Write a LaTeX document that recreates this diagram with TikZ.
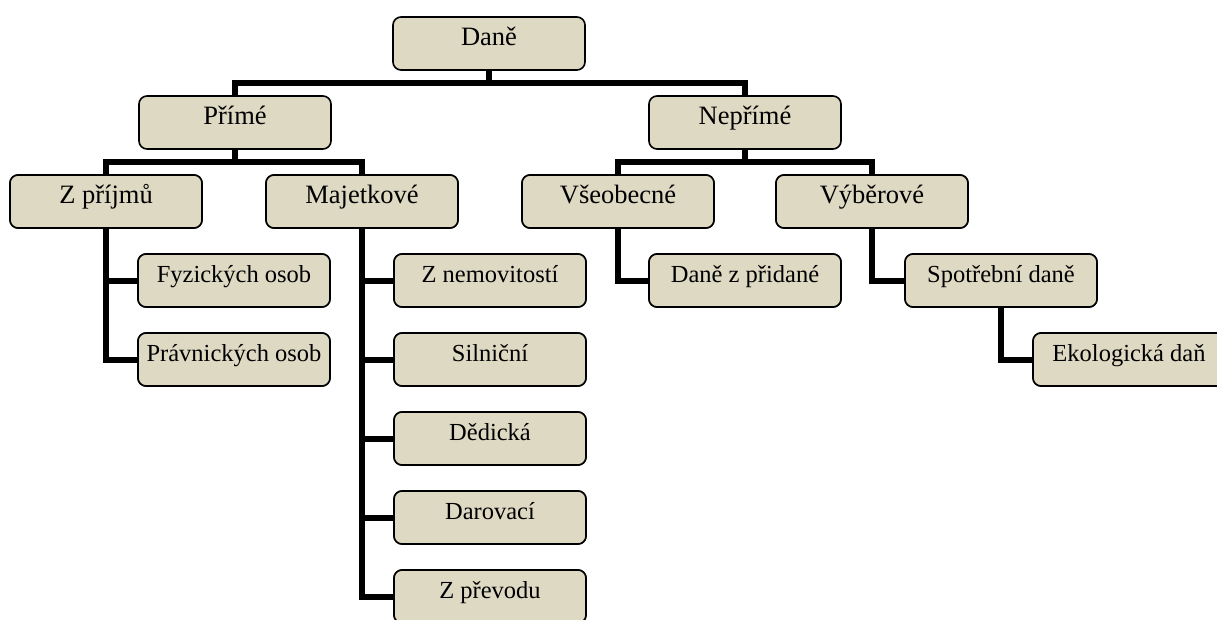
\documentclass[tikz,border=0pt]{standalone}
\usepackage{fontspec}
\setmainfont{Liberation Serif}
\usetikzlibrary{positioning}
\definecolor{boxtan}{HTML}{DDD9C3}
\tikzset{
  box/.style={draw,line width=1.6pt,rounded corners=8pt,fill=boxtan,
    minimum width=192pt,minimum height=53pt,inner sep=0pt,
    text height=11.5pt,text depth=8.5pt},
  big/.style={box,font=\fontsize{26.5}{30}\selectfont},
  small/.style={box,font=\fontsize{24.5}{28}\selectfont},
  link/.style={line width=6pt}
}
\begin{document}
\begin{tikzpicture}[x=1pt,y=-1pt]
  \useasboundingbox (0,0) rectangle (1217,619);
  \clip (0,0) rectangle (1217,619);

  % connectors first, boxes on top
  \coordinate (dane-s) at (489,70);
  \coordinate (prime-s) at (235,149);
  \coordinate (neprime-s) at (745,149);
  \draw[link] (dane-s) -- (489,83) coordinate (bar1);
  \draw[link] (235,96) |- (bar1) -| (745,96);
  \draw[link] (prime-s) -- (235,162) coordinate (bar2);
  \draw[link] (106,175) |- (bar2) -| (362,175);
  \draw[link] (neprime-s) -- (745,162) coordinate (bar3);
  \draw[link] (618,175) |- (bar3) -| (872,175);

  \node[big] (dane) at (489,43.5) {Daně};
  \node[big] (prime) at (235,122.5) {Přímé};
  \node[big] (neprime) at (745,122.5) {Nepřímé};
  \node[big] (zprijmu) at (106,201.5) {Z příjmů};
  \node[big] (majetkove) at (362,201.5) {Majetkové};
  \node[big] (vseobecne) at (618,201.5) {Všeobecné};
  \node[big] (vyberove) at (872,201.5) {Výběrové};

  \node[small] (fyzicke) at (234,280.5) {Fyzických osob};
  \node[small] (pravnicke) at (234,359.5) {Právnických osob};
  \draw[link] (zprijmu.south) |- (fyzicke.west);
  \draw[link] (zprijmu.south) |- (pravnicke.west);

  \node[small] (nemovitosti) at (490,280.5) {Z nemovitostí};
  \node[small] (silnicni) at (490,359.5) {Silniční};
  \node[small] (dedicka) at (490,438.5) {Dědická};
  \node[small] (darovaci) at (490,517.5) {Darovací};
  \node[small] (prevod) at (490,596.5) {Z převodu};
  \foreach \c in {nemovitosti,silnicni,dedicka,darovaci,prevod}
    \draw[link] (majetkove.south) |- (\c.west);

  \node[small] (pridana) at (745,280.5) {Daně z přidané};
  \draw[link] (vseobecne.south) |- (pridana.west);

  \node[small] (spotrebni) at (1001,280.5) {Spotřební daně};
  \draw[link] (vyberove.south) |- (spotrebni.west);

  \node[small] (ekologicka) at (1129,359.5) {Ekologická daň};
  \draw[link] (spotrebni.south) |- (ekologicka.west);

  % redraw the children over the link ends
  \foreach \c/\t in {fyzicke/Fyzických osob,pravnicke/Právnických osob,
      nemovitosti/Z nemovitostí,silnicni/Silniční,dedicka/Dědická,
      darovaci/Darovací,prevod/Z převodu,pridana/Daně z přidané,
      spotrebni/Spotřební daně,ekologicka/Ekologická daň}
    \node[small] at (\c) {\t};
  \foreach \c/\t in {zprijmu/Z příjmů,majetkove/Majetkové,
      vseobecne/Všeobecné,vyberove/Výběrové}
    \node[big] at (\c) {\t};
\end{tikzpicture}
\end{document}
